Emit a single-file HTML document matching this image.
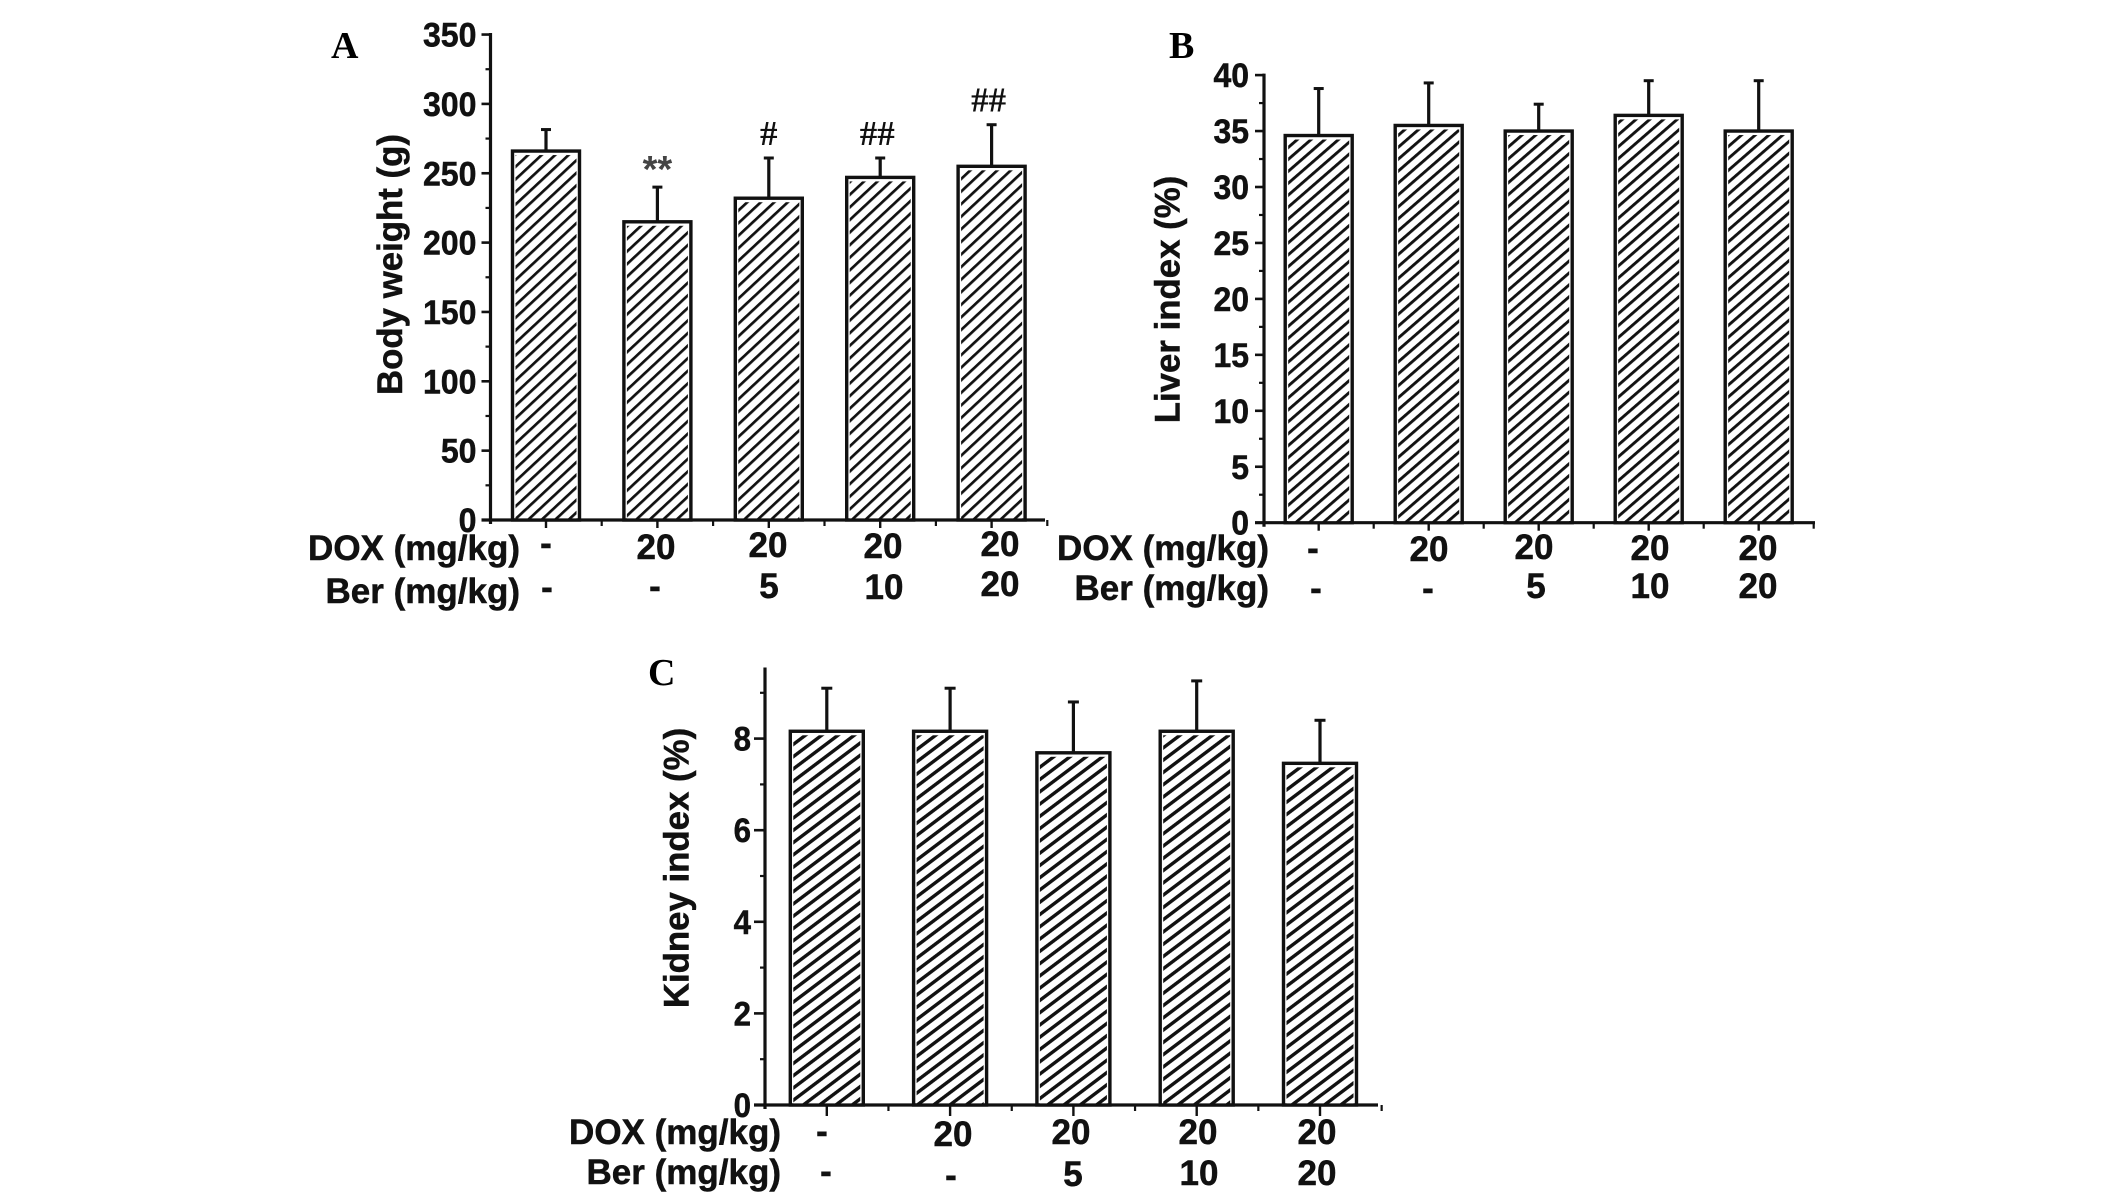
<!DOCTYPE html>
<html lang="en">
<head>
<meta charset="utf-8">
<title>Body weight, liver index and kidney index</title>
<style>
html,body{margin:0;padding:0;background:#fff;}
svg{display:block;}
text{font-family:"Liberation Sans",sans-serif;font-weight:700;fill:#111;stroke:#111;stroke-width:0.5px;}
.letter{font-family:"Liberation Serif",serif;font-size:38px;fill:#000;stroke-width:0;}
.title{font-size:34.8px;text-anchor:middle;}
.row{font-size:35px;text-anchor:end;}
.val{font-size:35px;text-anchor:middle;}
.tick{font-size:34px;text-anchor:end;}
.sig{font-family:"Liberation Serif",serif;font-size:35px;text-anchor:middle;stroke-width:0;}
.sig-star{font-family:"Liberation Sans",sans-serif;font-size:38px;fill:#444;stroke-width:0;}
</style>
</head>
<body>
<svg id="figure" xmlns="http://www.w3.org/2000/svg" width="2126" height="1201" viewBox="0 0 2126 1201">
<defs>
<pattern id="hatch-a" patternUnits="userSpaceOnUse" width="9.2" height="9.2" patternTransform="rotate(-43) translate(0 3)"><rect width="9.2" height="9.2" fill="#fff"/><rect y="0" width="9.2" height="2.7" fill="#111"/></pattern>
<pattern id="hatch-b" patternUnits="userSpaceOnUse" width="9" height="9" patternTransform="rotate(-41) translate(0 1)"><rect width="9" height="9" fill="#fff"/><rect y="0" width="9" height="2.9" fill="#111"/></pattern>
<pattern id="hatch-c" patternUnits="userSpaceOnUse" width="9.8" height="9.8" patternTransform="rotate(-37) translate(0 2)"><rect width="9.8" height="9.8" fill="#fff"/><rect y="0" width="9.8" height="3.4" fill="#111"/></pattern>
</defs>

<g id="panel-a">
<text class="letter" x="331" y="58">A</text>
<text class="title" transform="translate(402 264.5) rotate(-90)">Body weight (g)</text>
<text class="row" x="520" y="560">DOX (mg/kg)</text>
<text class="row" x="520" y="603">Ber (mg/kg)</text>
<text class="val" x="546" y="555">-</text>
<text class="val" x="656" y="559">20</text>
<text class="val" x="768" y="557">20</text>
<text class="val" x="883" y="558">20</text>
<text class="val" x="1000" y="556">20</text>
<text class="val" x="547" y="599">-</text>
<text class="val" x="655" y="598">-</text>
<text class="val" x="769" y="598">5</text>
<text class="val" x="884" y="599">10</text>
<text class="val" x="1000" y="596">20</text>
</g>

<g id="panel-b">
<text class="letter" x="1169" y="58">B</text>
<text class="title" transform="translate(1179.5 299.5) rotate(-90)">Liver index (%)</text>
<text class="row" x="1269" y="560">DOX (mg/kg)</text>
<text class="row" x="1269" y="600">Ber (mg/kg)</text>
<text class="val" x="1313" y="560">-</text>
<text class="val" x="1429" y="561">20</text>
<text class="val" x="1534" y="559">20</text>
<text class="val" x="1650" y="560">20</text>
<text class="val" x="1758" y="560">20</text>
<text class="val" x="1316" y="600">-</text>
<text class="val" x="1428" y="600">-</text>
<text class="val" x="1536" y="598">5</text>
<text class="val" x="1650" y="598">10</text>
<text class="val" x="1758" y="598">20</text>
</g>

<g id="panel-c">
<text class="letter" x="648" y="685">C</text>
<text class="title" transform="translate(688.5 868) rotate(-90)">Kidney index (%)</text>
<text class="row" x="781" y="1144">DOX (mg/kg)</text>
<text class="row" x="781" y="1184">Ber (mg/kg)</text>
<text class="val" x="822" y="1143">-</text>
<text class="val" x="953" y="1146">20</text>
<text class="val" x="1071" y="1144">20</text>
<text class="val" x="1198" y="1144">20</text>
<text class="val" x="1317" y="1144">20</text>
<text class="val" x="826" y="1183">-</text>
<text class="val" x="951" y="1187">-</text>
<text class="val" x="1073" y="1186">5</text>
<text class="val" x="1199" y="1185">10</text>
<text class="val" x="1317" y="1185">20</text>
</g>
</svg>

<script>
// Panel A: body weight (g)
const bodyWeightMeans = [266, 215, 232, 247, 255];
const bodyWeightErrorTops = [281.5, 240, 261, 261, 285];
const bodyWeightTicks = [0, 50, 100, 150, 200, 250, 300, 350];
const bodyWeightSignificance = ["", "**", "#", "##", "##"];

// Panel B: liver index (%)
const liverIndexMeans = [34.6, 35.5, 35.0, 36.4, 35.0];
const liverIndexErrorTops = [38.8, 39.3, 37.4, 39.5, 39.5];
const liverIndexTicks = [0, 5, 10, 15, 20, 25, 30, 35, 40];

// Panel C: kidney index (%)
const kidneyIndexMeans = [8.16, 8.16, 7.69, 8.16, 7.46];
const kidneyIndexErrorTops = [9.1, 9.1, 8.8, 9.26, 8.4];
const kidneyIndexTicks = [0, 2, 4, 6, 8];

const SVG_NS = "http://www.w3.org/2000/svg";

function drawPanel(panelId, frame, means, errorTops, ticks, significance) {
  const parent = document.getElementById(panelId);
  const yScale = v => frame.y0 - v * frame.unit;
  const xScale = i => frame.xStart + i * frame.xStep;
  const add = (tag, attrs, text) => {
    const el = document.createElementNS(SVG_NS, tag);
    for (const k in attrs) el.setAttribute(k, attrs[k]);
    if (text !== undefined) el.textContent = text;
    parent.appendChild(el);
    return el;
  };

  means.forEach((m, i) => {
    const bar = add("rect", {
      x: xScale(i) - frame.barW / 2, y: yScale(m),
      width: frame.barW, height: frame.y0 - yScale(m),
      fill: "#fff", stroke: "#111", "stroke-width": 3.4
    });
    
    

    const fill = add("rect", {
      x: xScale(i) - frame.barW / 2 + 3, y: yScale(m) + 4,
      width: frame.barW - 6, height: frame.y0 - yScale(m) - 4,
      fill: "url(#" + frame.hatch + ")"
    });
    
    

    const stem = add("line", {
      x1: xScale(i), x2: xScale(i), y1: yScale(m), y2: yScale(errorTops[i]),
      stroke: "#111", "stroke-width": 3.2
    });
    
    

    const cap = add("line", {
      x1: xScale(i) - frame.cap, x2: xScale(i) + frame.cap,
      y1: yScale(errorTops[i]), y2: yScale(errorTops[i]),
      stroke: "#111", "stroke-width": 3
    });
    
    
  });

  if (significance) {
    significance.forEach((mark, i) => {
      if (!mark) return;
      const isStar = mark[0] === "*";
      const sig = add("text", {
        class: isStar ? "sig sig-star" : "sig",
        x: xScale(i) - (mark === "##" ? 3 : 0),
        y: yScale(errorTops[i]) - (isStar ? 5 : 13)
      }, mark);
      
      
    });
  }

  const yAxis = add("line", {
    x1: frame.xAxis, x2: frame.xAxis, y1: yScale(frame.axisTop) - 1.5, y2: frame.y0 + 4,
    stroke: "#111", "stroke-width": 3.2
  });
  
  

  const xAxis = add("line", {
    x1: frame.xAxis - frame.tickLen, x2: frame.xEnd, y1: frame.y0, y2: frame.y0,
    stroke: "#111", "stroke-width": 3.2
  });
  
  

  const step = ticks[1] - ticks[0];
  ticks.forEach(t => {
    const major = add("line", {
      x1: frame.xAxis - frame.tickLen, x2: frame.xAxis, y1: yScale(t), y2: yScale(t),
      stroke: "#111", "stroke-width": 2.6
    });
    
    

    const text = String(t);
    const label = add("text", {
      class: "tick", x: frame.xAxis - frame.tickLen - frame.labelGap,
      y: yScale(t) + 12,
      textLength: text.length * 0.556 * frame.tickFont * frame.tickSquash,
      lengthAdjust: "spacingAndGlyphs"
    }, text);
    label.style.fontSize = frame.tickFont + "px";
    
    

    if (t + step / 2 <= frame.axisTop) {
      const minor = add("line", {
        x1: frame.xAxis - 5, x2: frame.xAxis, y1: yScale(t + step / 2), y2: yScale(t + step / 2),
        stroke: "#111", "stroke-width": 2.2
      });
      
      
    }
  });

  means.forEach((m, i) => {
    const major = add("line", {
      x1: xScale(i), x2: xScale(i), y1: frame.y0, y2: frame.y0 + frame.xTickLen,
      stroke: "#111", "stroke-width": 2.4
    });
    
    

    const minor = add("line", {
      x1: xScale(i) + frame.xStep / 2, x2: xScale(i) + frame.xStep / 2,
      y1: frame.y0, y2: frame.y0 + 6,
      stroke: "#111", "stroke-width": 2.2
    });
    
    
  });
}

drawPanel("panel-a", {
  y0: 520, unit: 1.387, axisTop: 350, xAxis: 490.5, xEnd: 1045,
  xStart: 546, xStep: 111.4, barW: 67, cap: 5, tickLen: 9, labelGap: 5,
  xTickLen: 8, tickFont: 34.5, tickSquash: 0.93, hatch: "hatch-a"
}, bodyWeightMeans, bodyWeightErrorTops, bodyWeightTicks, bodyWeightSignificance);

drawPanel("panel-b", {
  y0: 522.7, unit: 11.19, axisTop: 40, xAxis: 1264, xEnd: 1815,
  xStart: 1318.7, xStep: 110, barW: 67, cap: 5, tickLen: 9, labelGap: 6,
  xTickLen: 8, tickFont: 34, tickSquash: 0.94, hatch: "hatch-b"
}, liverIndexMeans, liverIndexErrorTops, liverIndexTicks);

drawPanel("panel-c", {
  y0: 1105, unit: 45.8, axisTop: 9.52, xAxis: 765, xEnd: 1378,
  xStart: 826.8, xStep: 123.3, barW: 73, cap: 5.5, tickLen: 11, labelGap: 3,
  xTickLen: 11, tickFont: 34, tickSquash: 0.92, hatch: "hatch-c"
}, kidneyIndexMeans, kidneyIndexErrorTops, kidneyIndexTicks);
</script>
</body>
</html>
